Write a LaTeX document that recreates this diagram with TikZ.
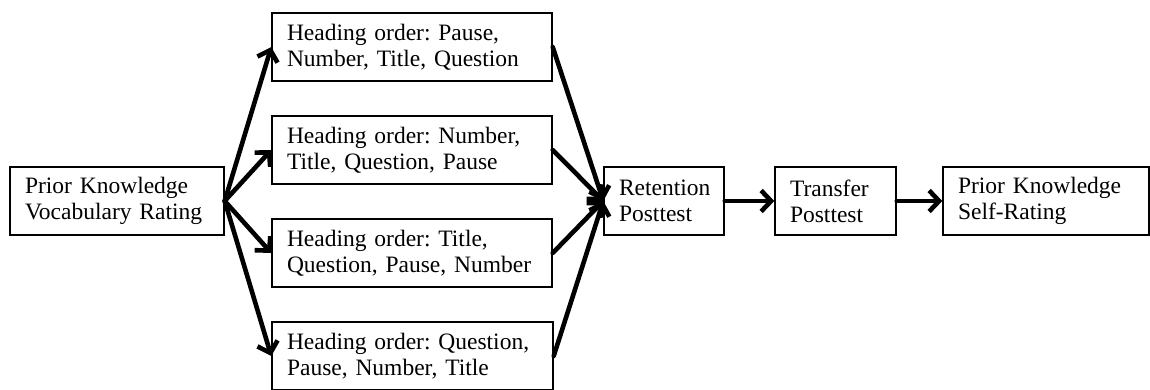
\documentclass[tikz,border=0pt]{standalone}
\usepackage{fontspec}
\setmainfont{Liberation Serif}
\usetikzlibrary{arrows.meta}

\tikzset{
  stage/.style={draw=black, line width=1.4pt, fill=white, inner xsep=15pt, inner ysep=0pt,
    align=left, anchor=center, minimum height=68pt,
    font=\fontsize{23.5}{26}\selectfont\frenchspacing},
  flow/.style={line width=4.6pt, line cap=round, line join=round,
    -{Straight Barb[length=10pt, width=21pt, line width=4.6pt]}},
}

\begin{document}
\begin{tikzpicture}[x=1pt, y=-1pt]
  \useasboundingbox (0,0) rectangle (1150,390);

  % starting rating
  \node[stage, text width=184pt] (prior) at (117,201) {Prior Knowledge\\Vocabulary Rating};

  % four heading-order conditions
  \node[stage, text width=250pt] (h1) at (412,47)  {Heading order: Pause,\\Number, Title, Question};
  \node[stage, text width=250pt] (h2) at (412,150) {Heading order: Number,\\Title, Question, Pause};
  \node[stage, text width=250pt] (h3) at (412,253) {Heading order: Title,\\Question, Pause, Number};
  \node[stage, text width=251pt] (h4) at (412.5,356) {Heading order: Question,\\Pause, Number, Title};

  % tests
  \node[stage, text width=90pt]  (ret)   at (664,201)    {Retention\\Posttest};
  \node[stage, text width=91pt]  (trans) at (835.5,201)  {Transfer\\Posttest};
  \node[stage, text width=176pt] (self)  at (1046,201)   {Prior Knowledge\\Self-Rating};

  % branching out
  \foreach \h in {h1,h2,h3,h4}
    \draw[flow] (prior.east) -- (\h.west);

  % merging in
  \foreach \h in {h1,h2,h3,h4}
    \draw[flow] (\h.east) -- (ret.west);

  % sequence of tests
  \draw[flow] (ret) -- (trans);
  \draw[flow] (trans) -- (self);
\end{tikzpicture}
\end{document}
